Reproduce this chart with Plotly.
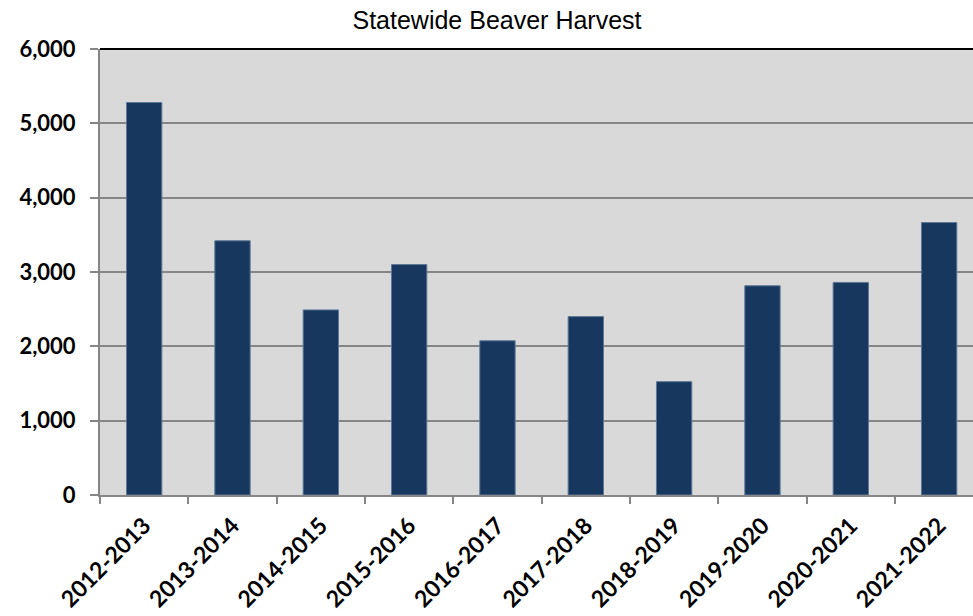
import plotly.graph_objects as go

seasons = ['2012-2013', '2013-2014', '2014-2015', '2015-2016', '2016-2017',
           '2017-2018', '2018-2019', '2019-2020', '2020-2021', '2021-2022']
harvest = [5280, 3420, 2490, 3100, 2075, 2400, 1525, 2815, 2860, 3665]
y_ticks = [0, 1000, 2000, 3000, 4000, 5000, 6000]
y_labels = ['0', '1,000', '2,000', '3,000', '4,000', '5,000', '6,000']

fig = go.Figure()
fig.add_trace(go.Bar(
    x=list(range(len(seasons))), y=harvest, width=0.4,
    marker=dict(color='#17375e', line=dict(color='#5d7896', width=1)),
))

# top border of plot area (black)
fig.add_shape(type='line', xref='paper', yref='paper', x0=0, x1=1, y0=1, y1=1,
              line=dict(color='black', width=2))

fig.update_layout(
    width=973, height=616,
    margin=dict(l=100, r=0, t=49, b=121),
    paper_bgcolor='white', plot_bgcolor='#d9d9d9',
    showlegend=False,
    title=dict(text='Statewide Beaver Harvest', x=497 / 973, xanchor='center',
               y=1 - 20 / 616, yanchor='middle',
               font=dict(family='Liberation Sans, Arial', size=25, color='black')),
)
fig.update_xaxes(
    range=[-0.5, -0.5 + 873 / 88.33], automargin=False,
    tickvals=list(range(len(seasons))), ticktext=seasons, tickangle=-45,
    ticks='', showgrid=False, showline=True, linecolor='#868686', linewidth=2,
    tickfont=dict(family='Lato', size=23, color='black', weight='bold'),
    ticklabelstandoff=6, fixedrange=True,
)
# category boundary ticks
fig.update_xaxes(minor=dict(tickvals=[i - 0.5 for i in range(len(seasons) + 1)],
                            ticks='outside', ticklen=7, tickcolor='#868686', tickwidth=2))
fig.update_yaxes(
    range=[0, 6000], tickvals=y_ticks, ticktext=y_labels, automargin=False,
    ticks='outside', ticklen=8, tickcolor='#868686', tickwidth=2,
    showgrid=True, gridcolor='#868686', gridwidth=2,
    showline=True, linecolor='#868686', linewidth=2, zeroline=False,
    tickfont=dict(family='Lato', size=22, color='black', weight='bold'),
    ticklabelstandoff=10, fixedrange=True,
)

# drop the default 8px body margin so the figure sits at the page corner
fig.write_html('out.html', config={'displayModeBar': False},
               post_script="document.body.style.margin='0';")
